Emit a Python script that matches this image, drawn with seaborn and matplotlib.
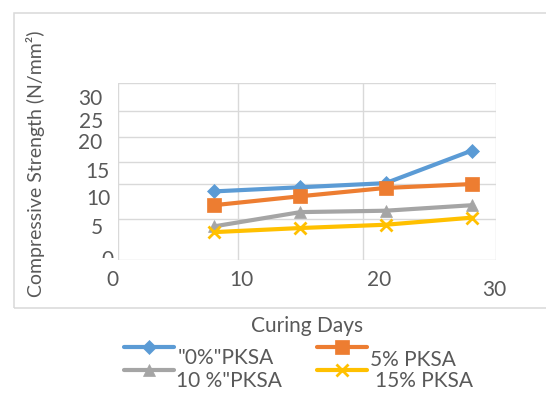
import numpy as np
import pandas as pd
import matplotlib
matplotlib.use("Agg")
import matplotlib.pyplot as plt
import seaborn as sns
from matplotlib.ticker import FixedLocator, FixedFormatter
from matplotlib.transforms import ScaledTranslation, Bbox, TransformedBbox
from matplotlib.patches import Rectangle

# ---- data -------------------------------------------------------------
days = [8, 15, 21.7, 28.2]
pksa_0 = [9.0, 9.6, 10.3, 17.3]
pksa_5 = [7.0, 8.3, 9.5, 10.1]
pksa_10 = [4.1, 6.0, 6.2, 7.0]
pksa_15 = [3.4, 3.9, 4.3, 5.2]
series_labels = ['"0%"PKSA', '5% PKSA', '10 %"PKSA', '15% PKSA']
x_ticks = [0, 10, 20, 30]
y_ticks = [0, 5, 10, 15, 20, 25, 30]

# uneven spacing of the axes: where each tick sits along its axis
x_tick_pos = [0, 9.524, 19.444, 30]
y_tick_pos = [0, 6.949, 12.797, 16.610, 20.847, 25.254, 30]

colors = ["#5B9BD5", "#ED7D31", "#A5A5A5", "#FFC000"]
markers = ["D", "s", "^", "x"]
msizes = [7, 9.5, 9, 8]
TEXT = "#595959"
GRID = "#D9D9D9"

df = pd.DataFrame({
    "Curing Days": days * 4,
    "Strength": pksa_0 + pksa_5 + pksa_10 + pksa_15,
    "Mix": sum([[lab] * len(days) for lab in series_labels], []),
})


def warp(src, dst):
    src = np.asarray(src, float)
    dst = np.asarray(dst, float)
    s0 = (dst[1] - dst[0]) / (src[1] - src[0])
    s1 = (dst[-1] - dst[-2]) / (src[-1] - src[-2])
    xs = np.concatenate([[src[0] - 1e4], src, [src[-1] + 1e4]])
    ys = np.concatenate([[dst[0] - 1e4 * s0], dst, [dst[-1] + 1e4 * s1]])
    fwd = lambda v: np.interp(v, xs, ys)
    inv = lambda v: np.interp(v, ys, xs)
    return fwd, inv


sns.set_theme(style="white")
plt.rcParams["font.family"] = ["Lato", "DejaVu Sans"]
plt.rcParams["text.color"] = TEXT

DPI = 100
fig = plt.figure(figsize=(5.46, 3.94), dpi=DPI)
W, H = 546, 394

# chart frame
fig.patches.append(Rectangle((13.5 / W, 1 - 308 / H), 1.0, (308 - 13) / H,
                             transform=fig.transFigure, fill=False,
                             edgecolor=GRID, linewidth=1.1))

ax = fig.add_axes([118 / W, 1 - 260 / H, 378 / W, 177 / H])
ax.set_xscale("function", functions=warp(x_ticks, x_tick_pos))
ax.set_yscale("function", functions=warp(y_ticks, y_tick_pos))

for lab, c, m, ms in zip(series_labels, colors, markers, msizes):
    sub = df[df["Mix"] == lab]
    sns.lineplot(data=sub, x="Curing Days", y="Strength", ax=ax, color=c,
                 marker=m, markersize=ms, markeredgecolor=c,
                 markeredgewidth=2 if m == "x" else 0.5,
                 linewidth=3, label=lab, legend=False)

ax.set_xlim(0, 30)
ax.set_ylim(0, 30)
ax.xaxis.set_major_locator(FixedLocator(x_ticks))
ax.yaxis.set_major_locator(FixedLocator(y_ticks))
ax.xaxis.set_major_formatter(FixedFormatter([str(v) for v in x_ticks]))
ax.yaxis.set_major_formatter(FixedFormatter([str(v) for v in y_ticks]))
ax.xaxis.set_minor_locator(FixedLocator([]))
ax.yaxis.set_minor_locator(FixedLocator([]))
ax.tick_params(axis="both", length=0, labelsize=15, labelcolor=TEXT)
ax.tick_params(axis="x", pad=7.2)
ax.tick_params(axis="y", pad=0)
ax.grid(True, color=GRID, linewidth=1.0)
for s in ax.spines.values():
    s.set_visible(False)

ax.set_xlabel("Curing Days", fontsize=15, color=TEXT, va="top")
ax.xaxis.set_label_coords(0.5, (260 - 316) / 177)
ax.set_ylabel("Compressive Strength (N/mm²)", fontsize=14, color=TEXT)
ax.yaxis.set_label_coords((45 - 118) / 378, (260 - 164) / 177)

handles = {h.get_label(): h for h in ax.get_lines()}
order = [series_labels[0], series_labels[2], series_labels[1], series_labels[3]]
leg = fig.legend([handles[k] for k in order], order, ncol=2, loc="upper left",
                 bbox_to_anchor=(124 / W, 1 - 338 / H), frameon=False,
                 fontsize=15, handlelength=2.4, handletextpad=0.2,
                 columnspacing=1.6, labelspacing=0.15, borderpad=0,
                 borderaxespad=0, numpoints=1)

fig.canvas.draw()


def shift(artist, dx, dy):
    artist.set_transform(artist.get_transform() +
                         ScaledTranslation(dx / DPI, -dy / DPI, fig.dpi_scale_trans))


# nudge individual tick labels (pixels, +dy = down)
y_shift = {0: (-4, -2.5), 5: (-15, 6.5), 10: (-7, 12.5), 15: (-8, 7.5),
           20: (-16, 3.5), 25: (-15, 8.5), 30: (-16, 14.5)}
for tick, v in zip(ax.yaxis.get_major_ticks(), y_ticks):
    shift(tick.label1, *y_shift[v])
x_shift = {0: (-6, 0), 10: (3.5, 0), 20: (16, 0), 30: (-2, 10)}
for tick, v in zip(ax.xaxis.get_major_ticks(), x_ticks):
    shift(tick.label1, *x_shift[v])

# the "0" on the value axis is cut by the plot floor
zero_lab = ax.yaxis.get_major_ticks()[0].label1
zero_lab.set_clip_box(TransformedBbox(Bbox.from_extents(0, 1 - 258 / H, 1, 1),
                                      fig.transFigure))
zero_lab.set_clip_on(True)

leg_shift = {'"0%"PKSA': (-1, 9.5), '10 %"PKSA': (-2, 9.5),
             '5% PKSA': (-2, 11.5), '15% PKSA': (3, 9.5)}
for t in leg.get_texts():
    shift(t, *leg_shift[t.get_text()])

fig.savefig("out.png", dpi=DPI)
